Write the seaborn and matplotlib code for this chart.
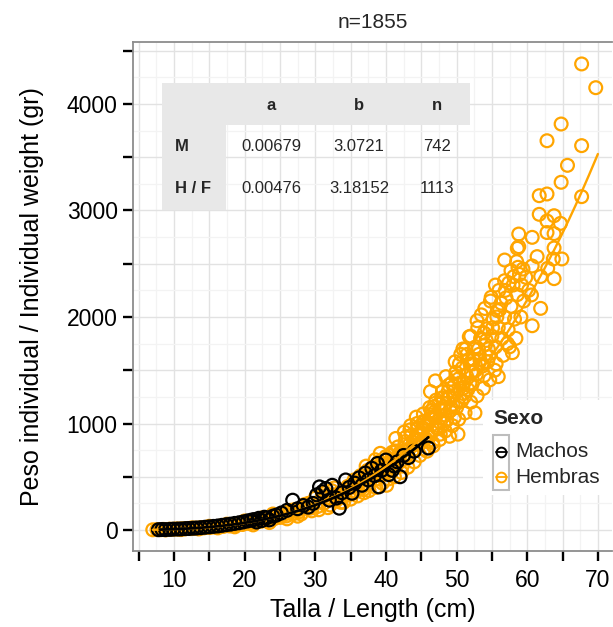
import numpy as np
import pandas as pd
import matplotlib
matplotlib.use("Agg")
import matplotlib.pyplot as plt
from matplotlib.patches import Rectangle
from matplotlib.lines import Line2D
from matplotlib.ticker import MultipleLocator, FuncFormatter
import seaborn as sns

# ---- Length-weight observations (cm, g) ----
talla_hembras = [
    7.0, 7.6, 8.1, 8.5, 9.0, 9.4, 9.9, 10.3,
    10.7, 11.2, 11.6, 12.0, 12.4, 12.9, 13.3, 13.8,
    14.2, 14.7, 15.1, 15.6, 16.0, 16.5, 17.0, 17.4,
    17.9, 18.3, 18.8, 19.2, 19.7, 20.1, 20.6, 21.0,
    21.4, 21.9, 22.3, 22.8, 23.2, 23.7, 24.1, 24.6,
    25.0, 25.4, 25.9, 26.3, 26.8, 27.2, 27.7, 28.1,
    12.5, 15.0, 17.5, 20.0, 22.5, 24.0, 26.5, 28.5,
    8.8, 11.0, 13.5, 16.2, 18.6, 21.2, 23.5, 27.5,
    26.0, 27.0, 28.0, 29.0, 29.5, 30.0, 28.6, 29.3,
    30.3, 30.7, 31.2, 31.6, 32.1, 32.5, 33.0, 33.4,
    30.5, 31.0, 31.8, 32.3, 32.9, 33.6, 31.4, 32.7,
    33.9, 34.3, 34.8, 35.2, 35.7, 36.1, 36.6, 37.0,
    34.0, 34.6, 35.0, 35.5, 36.0, 36.4, 36.9, 37.3,
    33.2, 34.7, 35.9, 36.8, 37.8, 38.7, 39.6, 39.9,
    37.5, 37.9, 38.4, 38.8, 39.3, 39.7, 40.2, 40.6,
    37.6, 38.1, 38.6, 39.0, 39.5, 40.0, 40.4, 40.9,
    38.0, 38.9, 39.8, 40.7, 39.2, 37.2, 40.1, 38.5,
    36.2, 37.4, 38.2, 39.1, 40.5, 41.3, 42.1, 42.8,
    40.3, 41.0, 41.8, 42.5, 43.2, 43.9, 44.6, 45.2,
    41.1, 41.5, 42.0, 42.4, 42.9, 43.3, 43.8, 44.2,
    41.2, 41.7, 42.2, 42.7, 43.1, 43.6, 44.0, 44.5,
    41.4, 42.6, 43.5, 44.3, 41.9, 43.0, 44.1, 42.3,
    43.4, 44.4, 45.3, 46.4, 47.0, 47.6, 48.2, 49.0,
    44.7, 45.1, 45.6, 46.0, 46.5, 46.9, 47.4, 47.8,
    44.8, 45.3, 45.8, 46.2, 46.7, 47.1, 47.6, 48.0,
    45.0, 45.9, 46.4, 47.3, 48.2, 45.5, 46.8, 47.9,
    45.4, 46.1, 46.6, 47.2, 47.7, 48.6, 49.1, 49.7,
    45.7, 46.3, 46.9, 47.5, 48.1, 48.8, 49.3, 49.9,
    48.3, 48.7, 49.2, 49.6, 50.1, 50.5, 51.0, 51.4,
    48.4, 48.9, 49.4, 49.9, 50.3, 50.8, 51.2, 51.7,
    48.5, 49.0, 49.8, 50.6, 51.3, 52.0, 49.5, 50.2,
    49.6, 50.3, 51.0, 51.9, 52.4, 53.1, 54.2, 55.7,
    50.0, 50.7, 51.1, 51.6, 52.2, 52.7, 53.6, 54.4,
    50.4, 50.9, 51.5, 52.1, 52.7, 53.3, 53.9, 54.5,
    51.9, 52.3, 52.8, 53.2, 53.7, 54.1, 54.6, 55.0,
    52.0, 52.5, 52.9, 53.4, 53.8, 54.3, 54.7, 55.2,
    51.8, 52.9, 53.5, 54.0, 54.8, 52.6, 55.4, 53.9,
    55.5, 55.9, 56.4, 56.8, 57.3, 57.7, 58.2, 58.6,
    55.6, 56.1, 56.6, 57.0, 57.5, 58.0, 58.4, 58.9,
    55.1, 55.8, 56.3, 56.9, 57.4, 58.1, 58.5, 59.4,
    56.8, 56.0, 57.7, 58.7, 58.6, 59.2, 55.9, 57.9,
    59.1, 59.5, 59.8, 60.2, 60.6, 60.7, 60.7, 61.4,
    54.9, 56.8, 55.5, 57.2, 53.0, 50.9, 47.0, 46.3,
    61.9, 63.8, 62.9, 58.8, 60.7, 62.8, 63.8, 58.8, 63.8, 61.7,
    63.8, 62.8, 64.7, 61.7, 62.8, 67.7, 64.8, 65.7, 62.8, 67.7,
    64.8, 67.7, 69.7, 61.9, 64.9, 63.7,
]
peso_hembras = [
    2, 4, 3, 6, 5, 8, 7, 10,
    9, 12, 11, 15, 13, 18, 17, 22,
    20, 26, 24, 30, 28, 36, 34, 42,
    38, 50, 46, 58, 52, 70, 62, 78,
    70, 88, 82, 98, 90, 112, 104, 126,
    118, 140, 132, 160, 150, 178, 170, 198,
    20, 35, 55, 85, 115, 150, 185, 240,
    1, 4, 10, 20, 30, 48, 70, 130,
    105, 190, 150, 250, 180, 300, 225, 205,
    220, 265, 250, 300, 235, 330, 280, 345,
    190, 320, 210, 370, 300, 260, 350, 395,
    310, 380, 340, 420, 360, 455, 400, 480,
    260, 410, 290, 470, 320, 510, 350, 540,
    300, 330, 420, 380, 500, 480, 560, 620,
    430, 520, 470, 560, 505, 610, 545, 640,
    370, 590, 400, 640, 440, 690, 480, 730,
    500, 600, 560, 600, 720, 600, 420, 660,
    450, 560, 540, 580, 700, 740, 720, 870,
    560, 620, 700, 660, 760, 820, 900, 960,
    590, 680, 640, 740, 690, 800, 750, 860,
    500, 780, 540, 830, 590, 890, 640, 960,
    860, 920, 980, 1060, 720, 700, 760, 600,
    940, 1000, 1020, 1120, 1060, 1050, 1160, 1250,
    800, 940, 860, 1000, 920, 1070, 980, 1140,
    700, 1090, 740, 1150, 790, 1220, 850, 1300,
    900, 830, 1080, 950, 1000, 1020, 1160, 1240,
    760, 880, 820, 960, 900, 1030, 1120, 1060,
    980, 1050, 1110, 1180, 1240, 1300, 1380, 1480,
    1080, 1230, 1150, 1300, 1210, 1380, 1280, 1450,
    930, 1360, 980, 1440, 1040, 1520, 1100, 1600,
    1440, 880, 1580, 1650, 1700, 1820, 1180, 900,
    1350, 1420, 1380, 1560, 1600, 1700, 1780, 2000,
    1150, 1210, 1250, 1320, 1370, 1500, 1560, 1580,
    1560, 1330, 1650, 1480, 1720, 1600, 1850, 1700,
    1380, 1560, 1460, 1650, 1540, 1740, 1630, 1820,
    1200, 1700, 1260, 1800, 1330, 1890, 1410, 1980,
    1815, 1965, 2020, 2080, 2150, 1100, 1500, 1450,
    1720, 1900, 1800, 2000, 1880, 2100, 1980, 2210,
    1560, 2070, 1640, 2180, 1720, 2300, 1800, 2400,
    1900, 2060, 2130, 2250, 2320, 2380, 2520, 2450,
    2535, 2250, 2435, 2467, 2645, 2300, 1440, 1665,
    2000, 2150, 2373, 2250, 2207, 1918, 2479, 2567,
    2185, 2341, 2300, 1750, 1900, 1700, 1400, 1300,
    2380, 2360, 2457, 2779, 2748, 2793, 2783, 2660, 2648, 2964,
    2951, 2901, 2879, 3139, 3155, 3130, 3265, 3424, 3655, 3609,
    3812, 4376, 4153, 2081, 2545, 2545,
]

talla_machos = [
    7.8, 8.3, 8.8, 9.4, 9.9, 10.5, 11.0, 11.6,
    12.1, 12.7, 13.2, 13.8, 14.4, 15.0, 15.6, 16.2,
    16.8, 17.4, 18.0, 18.6, 19.2, 19.8, 20.4, 20.9,
    21.3, 21.7, 22.0, 22.4, 22.8, 23.1, 23.5, 24.0,
    24.5, 25.2, 26.0, 26.8, 27.5, 28.3, 29.0, 29.7,
    30.2, 30.6, 31.0, 31.5, 32.0, 32.4, 33.0, 33.4,
    33.8, 34.3, 34.8, 35.2, 35.6, 36.2, 36.6, 37.1,
    37.5, 38.0, 38.4, 38.8, 39.0, 39.4, 40.0, 40.4,
    40.9, 41.2, 41.6, 42.0, 42.5, 43.2, 44.0, 46.0,
]
peso_machos = [
    3, 5, 4, 6, 8, 9, 10, 13,
    14, 17, 19, 22, 26, 30, 34, 38,
    44, 50, 55, 62, 68, 76, 85, 92,
    98, 75, 110, 88, 120, 113, 95, 130,
    140, 160, 185, 280, 200, 230, 215, 250,
    330, 405, 360, 390, 280, 420, 300, 205,
    350, 470, 400, 345, 440, 490, 420, 535,
    470, 580, 510, 625, 405, 560, 657, 520,
    560, 600, 640, 500, 700, 680, 740, 770,
]

# ---- Fitted W = a * L^b parameters ----
grupos = ["M", "H / F"]
coef_a = [0.00679, 0.00476]
coef_b = [3.0721, 3.18152]
n_obs = [742, 1113]
rango_talla = [(8.0, 46.0), (7.0, 70.0)]
n_total = 1855

col_machos = "#000000"
col_hembras = "#FFA500"

sns.set_theme(style="whitegrid")
plt.rcParams["font.family"] = ["Liberation Sans", "DejaVu Sans"]

fig = plt.figure(figsize=(6.13, 6.27), dpi=100)
ax = fig.add_axes([133 / 613, 1 - 551 / 627, 479 / 613, 509 / 627])
ax.set_facecolor("white")

df_h = pd.DataFrame({"Talla": talla_hembras, "Peso": peso_hembras})
df_m = pd.DataFrame({"Talla": talla_machos, "Peso": peso_machos})

sns.scatterplot(data=df_h, x="Talla", y="Peso", ax=ax, s=85, marker="o",
                facecolor="none", edgecolor=col_hembras, linewidth=1.6, zorder=3)
sns.scatterplot(data=df_m, x="Talla", y="Peso", ax=ax, s=85, marker="o",
                facecolor="none", edgecolor=col_machos, linewidth=1.6, zorder=3)

# fitted curves
for idx, color, lw in [(1, col_hembras, 1.7), (0, col_machos, 2.0)]:
    lo, hi = rango_talla[idx]
    L = np.linspace(lo, hi, 200)
    W = coef_a[idx] * L ** coef_b[idx]
    sns.lineplot(x=L, y=W, ax=ax, color=color, lw=lw, zorder=4)

ax.set_xlim(4.2, 72)
ax.set_ylim(-197, 4582)

ax.xaxis.set_major_locator(MultipleLocator(5))
ax.xaxis.set_minor_locator(MultipleLocator(2.5))
ax.yaxis.set_major_locator(MultipleLocator(500))
ax.yaxis.set_minor_locator(MultipleLocator(250))
ax.xaxis.set_major_formatter(FuncFormatter(lambda v, p: f"{v:.0f}" if abs(v % 10) < 1e-6 else ""))
ax.yaxis.set_major_formatter(FuncFormatter(lambda v, p: f"{v:.0f}" if abs(v % 1000) < 1e-6 else ""))

ax.grid(which="major", color="#E2E2E2", lw=1.0)
ax.grid(which="minor", color="#F3F3F3", lw=0.9)
ax.set_axisbelow(True)

ax.tick_params(which="major", direction="out", length=7, width=1.7, color="black",
               labelsize=16.5, labelcolor="black", bottom=True, left=True)
ax.tick_params(axis="x", pad=6)
ax.tick_params(axis="y", pad=4)
ax.tick_params(which="minor", length=0)

for side in ["left", "bottom", "top"]:
    ax.spines[side].set_visible(True)
    ax.spines[side].set_color("#8C8C8C")
    ax.spines[side].set_linewidth(1.3)
ax.spines["right"].set_visible(False)

ax.set_xlabel("Talla / Length (cm)", fontsize=18, color="black")
ax.set_ylabel("Peso individual / Individual weight (gr)", fontsize=18, color="black")
ax.xaxis.set_label_coords(0.5, -0.092)
ax.yaxis.set_label_coords(-0.185, 0.5)
ax.set_title(f"n={n_total}", fontsize=15, pad=10)

# ---- parameter table ----
tgrey = "#E8E8E8"
ax.add_patch(Rectangle((0.0605, 0.837), 0.643, 0.082, transform=ax.transAxes,
                       facecolor=tgrey, edgecolor="none", zorder=5))
ax.add_patch(Rectangle((0.0605, 0.670), 0.1335, 0.167, transform=ax.transAxes,
                       facecolor=tgrey, edgecolor="none", zorder=5))
col_x = [0.288, 0.472, 0.635]
for x, h in zip(col_x, ["a", "b", "n"]):
    ax.text(x, 0.876, h, transform=ax.transAxes, ha="center", va="center",
            fontsize=12, fontweight="bold", zorder=6)
for y, g, a, b, n in zip([0.794, 0.713], grupos, coef_a, coef_b, n_obs):
    ax.text(0.0877, y, g, transform=ax.transAxes, ha="left", va="center",
            fontsize=12, fontweight="bold", zorder=6)
    for x, v in zip(col_x, [f"{a}", f"{b}", f"{n}"]):
        ax.text(x, y, v, transform=ax.transAxes, ha="center", va="center",
                fontsize=12, zorder=6)

# ---- legend ----
ax.add_patch(Rectangle((0.731, 0.110), 0.269, 0.187, transform=ax.transAxes,
                       facecolor="white", edgecolor="none", zorder=7))
ax.add_patch(Rectangle((0.752, 0.120), 0.033, 0.108, transform=ax.transAxes,
                       facecolor="white", edgecolor="#BDBDBD", lw=1.5, zorder=8))
ax.text(0.752, 0.261, "Sexo", transform=ax.transAxes, ha="left", va="center",
        fontsize=15, fontweight="bold", zorder=9)
for y, lab, color in [(0.1945, "Machos", col_machos), (0.145, "Hembras", col_hembras)]:
    ax.add_line(Line2D([0.757, 0.780], [y, y], transform=ax.transAxes, color=color,
                       lw=1.3, zorder=9))
    ax.add_line(Line2D([0.7685], [y], transform=ax.transAxes, marker="o", ms=7,
                       mfc="none", mec=color, mew=1.4, lw=0, zorder=9))
    ax.text(0.797, y, lab, transform=ax.transAxes, ha="left", va="center",
            fontsize=15, zorder=9)

fig.savefig("out.png", dpi=100)
